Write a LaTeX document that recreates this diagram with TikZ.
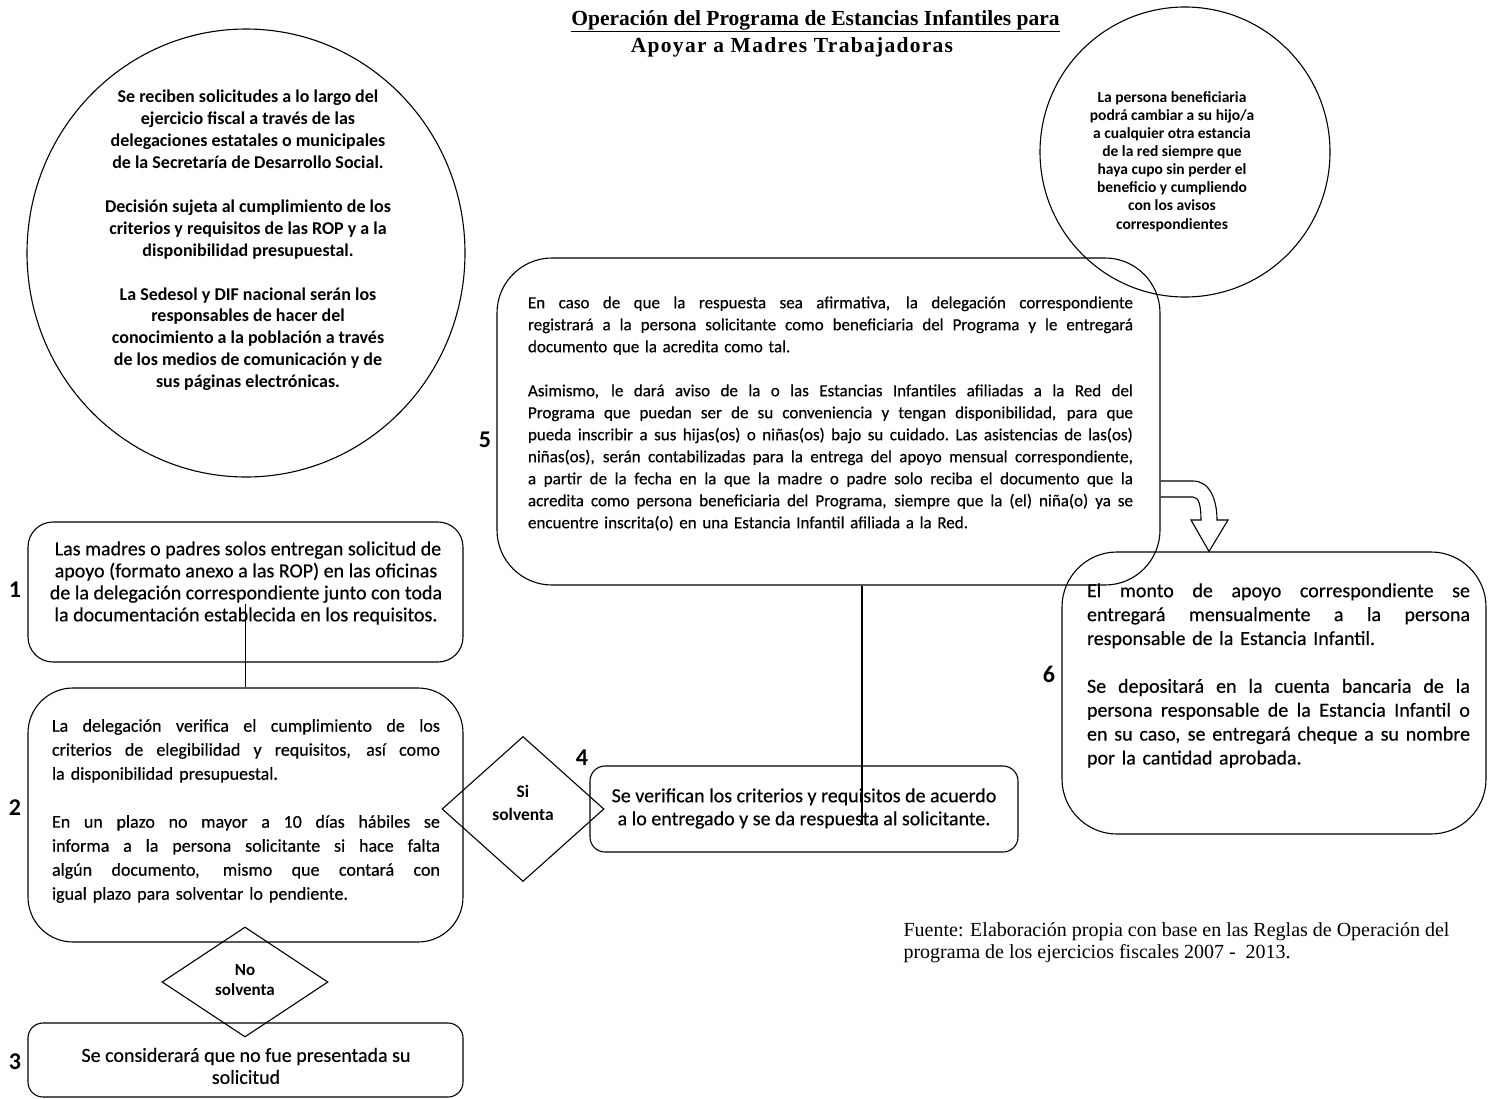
\documentclass[tikz,border=0pt]{standalone}
\usepackage{fontspec}
\setmainfont{Carlito}
\newfontfamily\bodyf{Carlito}[FakeBold=0.4]
\newfontfamily\tnr{Liberation Serif}
\newfontfamily\tnrsp{Liberation Serif}[LetterSpace=6]
\usetikzlibrary{shapes.geometric,calc}
\newcommand{\jl}[2]{\leavevmode\hbox to #1{\spaceskip=.23em plus 1fil minus .08em\xspaceskip=\spaceskip\relax #2}}
\tikzset{
  rbox/.style={draw, inner sep=0pt},
  txt/.style={inner sep=0pt, align=left},
  ctxt/.style={inner sep=0pt, align=center},
  num/.style={inner sep=0pt, font=\bfseries\fontsize{24}{26}\selectfont},
  dia/.style={draw, diamond, inner sep=0pt},
}
\begin{document}
\begin{tikzpicture}[x=1pt,y=-1pt,line width=1.1pt]
\useasboundingbox (0,0) rectangle (1488,1098);

% title
\node[inner sep=0pt, anchor=base, font=\tnr\bfseries\fontsize{21.5}{24}\selectfont] (title1) at (815.5,25) {\underline{Operación del Programa de Estancias Infantiles para}};
\node[inner sep=0pt, anchor=base, font=\tnrsp\bfseries\fontsize{21.5}{24}\selectfont] (title2) at (792,52) {Apoyar a Madres Trabajadoras};

% circles
\node[draw, ellipse, minimum width=438pt, minimum height=448pt, inner sep=0pt] (c1) at (246,253) {};
\node[ctxt, font=\bfseries\fontsize{18}{21.9}\selectfont] (c1t) at (248,240.5) {Se reciben solicitudes a lo largo del\\ejercicio fiscal a través de las\\delegaciones estatales o municipales\\de la Secretaría de Desarrollo Social.\\[21.9pt]Decisión sujeta al cumplimiento de los\\criterios y requisitos de las ROP y a la\\disponibilidad presupuestal.\\[21.9pt]La Sedesol y DIF nacional serán los\\responsables de hacer del\\conocimiento a la población a través\\de los medios de comunicación y de\\sus páginas electrónicas.};

\node[draw, circle, minimum size=290pt, inner sep=0pt] (c2) at (1185,152) {};
\node[ctxt, font=\bfseries\fontsize{15.5}{18.1}\selectfont] (c2t) at (1172,161.5) {La persona beneficiaria\\podrá cambiar a su hijo/a\\a cualquier otra estancia\\de la red siempre que\\haya cupo sin perder el\\beneficio y cumpliendo\\con los avisos\\correspondientes};

% boxes
\node[rbox, rounded corners=25pt, minimum width=435pt, minimum height=140pt] (b1) at (245.5,592) {};
\node[rbox, rounded corners=45pt, minimum width=435pt, minimum height=254pt] (b2) at (245.5,815) {};
\node[rbox, rounded corners=15pt, minimum width=435pt, minimum height=74pt] (b3) at (245.5,1060) {};
\node[rbox, rounded corners=15pt, minimum width=428pt, minimum height=86pt] (b4) at (804,809) {};
\node[rbox, rounded corners=55pt, minimum width=663pt, minimum height=327pt] (b5) at (828.5,421.5) {};
\node[rbox, rounded corners=55pt, minimum width=424pt, minimum height=282pt] (b6) at (1274,693) {};

% diamonds
\node[dia, minimum width=162pt, minimum height=145pt] (d1) at (523,809) {};
\node[dia, minimum width=166pt, minimum height=110pt] (d2) at (245,982) {};
\node[ctxt, font=\bfseries\fontsize{17.5}{23}\selectfont] (d1t) at (523,803) {Si\\solventa};
\node[ctxt, font=\bfseries\fontsize{17}{20}\selectfont] (d2t) at (245,980) {No\\solventa};

% box texts
\node[ctxt, font=\bodyf\fontsize{20}{22}\selectfont] (t1) at (246,583) {\hspace{4pt}Las madres o padres solos entregan solicitud de\\apoyo (formato anexo a las ROP) en las oficinas\\de la delegación correspondiente junto con toda\\la documentación establecida en los requisitos.};

\node[txt, text width=388pt, font=\bodyf\fontsize{18}{24}\selectfont] (t2) at (246,811) {\jl{388pt}{La delegación verifica el cumplimiento de los}\\\jl{388pt}{criterios de elegibilidad y requisitos, así como}\\la disponibilidad presupuestal.\\[24pt]\jl{388pt}{En un plazo no mayor a 10 días hábiles se}\\\jl{388pt}{informa a la persona solicitante si hace falta}\\\jl{388pt}{algún documento, mismo que contará con}\\igual plazo para solventar lo pendiente.};

\node[ctxt, font=\bodyf\fontsize{20}{22}\selectfont] (t3) at (246,1066) {Se considerará que no fue presentada su\\solicitud};

\node[ctxt, font=\bodyf\fontsize{20}{23}\selectfont] (t4) at (804,808.5) {Se verifican los criterios y requisitos de acuerdo\\a lo entregado y se da respuesta al solicitante.};

\node[txt, text width=605pt, font=\bodyf\fontsize{17}{22}\selectfont] (t5) at (830.5,413.5) {\jl{605pt}{En caso de que la respuesta sea afirmativa, la delegación correspondiente}\\\jl{605pt}{registrará a la persona solicitante como beneficiaria del Programa y le entregará}\\documento que la acredita como tal.\\[22pt]\jl{605pt}{Asimismo, le dará aviso de la o las Estancias Infantiles afiliadas a la Red del}\\\jl{605pt}{Programa que puedan ser de su conveniencia y tengan disponibilidad, para que}\\\jl{605pt}{pueda inscribir a sus hijas(os) o niñas(os) bajo su cuidado. Las asistencias de las(os)}\\\jl{605pt}{niñas(os), serán contabilizadas para la entrega del apoyo mensual correspondiente,}\\\jl{605pt}{a partir de la fecha en la que la madre o padre solo reciba el documento que la}\\\jl{605pt}{acredita como persona beneficiaria del Programa, siempre que la (el) niña(o) ya se}\\encuentre inscrita(o) en una Estancia Infantil afiliada a la Red.};

\node[txt, text width=383pt, font=\bodyf\fontsize{20}{23.9}\selectfont] (t6) at (1278.5,675.5) {\jl{383pt}{El monto de apoyo correspondiente se}\\\jl{383pt}{entregará mensualmente a la persona}\\responsable de la Estancia Infantil.\\[23.9pt]\jl{383pt}{Se depositará en la cuenta bancaria de la}\\\jl{383pt}{persona responsable de la Estancia Infantil o}\\\jl{383pt}{en su caso, se entregará cheque a su nombre}\\por la cantidad aprobada.};

% numbers
\node[num] (n1) at (15,590) {1};
\node[num] (n2) at (15,808) {2};
\node[num] (n3) at (15,1062) {3};
\node[num] (n4) at (582,758) {4};
\node[num] (n5) at (485,440) {5};
\node[num] (n6) at (1049,674) {6};

% connectors
\draw ([yshift=59pt]b1.south) -- (b2.north);
\coordinate (xc) at (862,0);
\draw (b5.south -| xc) -- ([yshift=-60pt]b4.north -| xc);
\draw ([yshift=-59.5pt]b5.east) -- (1193,481) .. controls (1210,481) and (1217,500) .. (1217,520)
  -- (1228,520) -- (b6.north -| {1209,0}) -- (1191,520) -- (1201,520)
  .. controls (1201,506) and (1199,497) .. (1193,497) -- ([yshift=-75.5pt]b5.east);

% source
\node[txt, anchor=west, font=\tnr\fontsize{20}{22}\selectfont] (src) at (903,943) {Fuente: Elaboración propia con base en las Reglas de Operación del\\programa de los ejercicios fiscales 2007 -\ \ 2013.};
\end{tikzpicture}
\end{document}
